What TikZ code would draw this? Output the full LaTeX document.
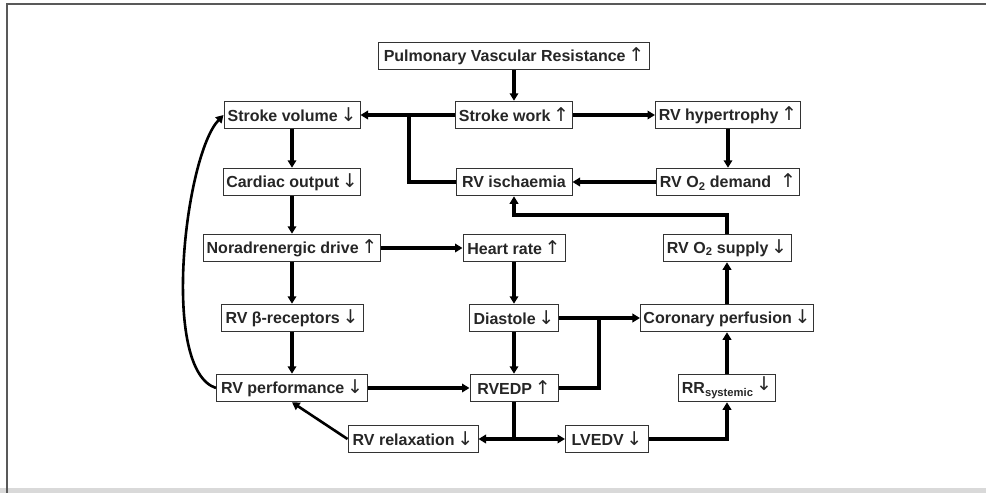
\documentclass[tikz,border=0pt]{standalone}
\usepackage{fontspec}
\setmainfont{Liberation Sans}
\newfontfamily\arrowfont{DejaVu Sans}
\newcommand{\UpA}{{\arrowfont\mdseries\fontsize{19}{19}\selectfont ↑}}
\newcommand{\DnA}{{\arrowfont\mdseries\fontsize{19}{19}\selectfont ↓}}
\usetikzlibrary{arrows.meta}
\tikzset{
  box/.style={draw=black!80, line width=1pt, fill=white, minimum height=27.5pt, inner xsep=3pt, inner ysep=2pt,
    font=\fontsize{16}{19}\selectfont\bfseries, text=black!85},
  conn/.style={line width=3.3pt, draw=black},
  arr/.style={conn, -{Triangle[length=7.5pt,width=8.5pt]}},
  frameline/.style={draw=black!65, line width=2.6pt}
}
\begin{document}
\begin{tikzpicture}[x=1pt,y=-1pt]
\useasboundingbox (0,0) rectangle (986,493);
\fill[black!15] (0,488) rectangle (986,493);
\draw[frameline] (986,4) -- (7,4) -- (7,493);

\node[box, minimum width=271pt] (pvr) at (514,56) {Pulmonary Vascular Resistance\,\UpA};
\node[box, minimum width=136pt] (sv) at (292,115) {Stroke volume\,\DnA};
\node[box, minimum width=116pt] (sw) at (514,115) {Stroke work\,\UpA};
\node[box, minimum width=145pt] (hyp) at (728,115) {RV hypertrophy\,\UpA};
\node[box, minimum width=137pt] (co) at (292,182) {Cardiac output\,\DnA};
\node[box, minimum width=116pt] (isch) at (514,182) {RV ischaemia};
\node[box, minimum width=142pt] (dem) at (728,182) {RV O\textsubscript{2} demand\ \ \UpA};
\node[box, minimum width=176pt] (nad) at (292,248) {Noradrenergic drive\,\UpA};
\node[box, minimum width=102pt] (hr) at (514,248) {Heart rate\,\UpA};
\node[box, minimum width=128pt] (sup) at (727,248) {RV O\textsubscript{2} supply\,\DnA};
\node[box, minimum width=142pt] (beta) at (292,318) {RV β-receptors\,\DnA};
\node[box, minimum width=89pt] (dia) at (514,318) {Diastole\,\DnA};
\node[box, minimum width=173pt] (cor) at (727,318) {Coronary perfusion\,\DnA};
\node[box, minimum width=151pt] (perf) at (292,388) {RV performance\,\DnA};
\node[box, minimum width=88pt] (rvedp) at (514,388) {RVEDP\,\UpA};
\node[box, minimum width=96pt] (rr) at (727,388) {RR\textsubscript{systemic}\,\raisebox{3pt}{\DnA}};
\node[box, minimum width=130pt] (relax) at (413,439) {RV relaxation\,\DnA};
\node[box, minimum width=83pt] (lvedv) at (607,439) {LVEDV\,\DnA};

\coordinate (j1) at (409,115);
\coordinate (j2) at (409,182);
\coordinate (j3) at (599,318);
\coordinate (j4) at (599,388);
\coordinate (j5) at (514,439);
\coordinate (j6) at (727,439);
\coordinate (j7) at (727,215);
\coordinate (j8) at (514,215);

\draw[arr] (pvr) -- (sw);
\draw[arr] (sw) -- (sv);
\draw[conn] (isch.west) -- (j2) -- (j1);
\draw[arr] (sw) -- (hyp);
\draw[arr] (hyp) -- (dem);
\draw[arr] (dem) -- (isch);
\draw[arr] (sv) -- (co);
\draw[arr] (co) -- (nad);
\draw[arr] (nad) -- (beta);
\draw[arr] (beta) -- (perf);
\draw[arr] (nad) -- (hr);
\draw[arr] (hr) -- (dia);
\draw[arr] (dia) -- (rvedp);
\draw[arr] (perf) -- (rvedp);
\draw[arr] (dia) -- (cor);
\draw[conn] (rvedp.east) -- (j4) -- (j3);
\draw[arr] (cor) -- (sup);
\draw[arr] (sup.north) -- (j7) -- (j8) -- (isch.south);
\draw[arr] (rr) -- (cor);
\draw[conn] (rvedp.south) -- (j5);
\draw[arr] (j5) -- (relax.east);
\draw[arr] (j5) -- (lvedv.west);
\draw[arr] (lvedv.east) -- (j6) -- (rr.south);
\draw[arr, line width=2.6pt] (relax.west) -- (perf.south);
\draw[arr, line width=2.6pt] (perf.west) .. controls (160,370) and (185,155) .. (sv.west);
\end{tikzpicture}
\end{document}
